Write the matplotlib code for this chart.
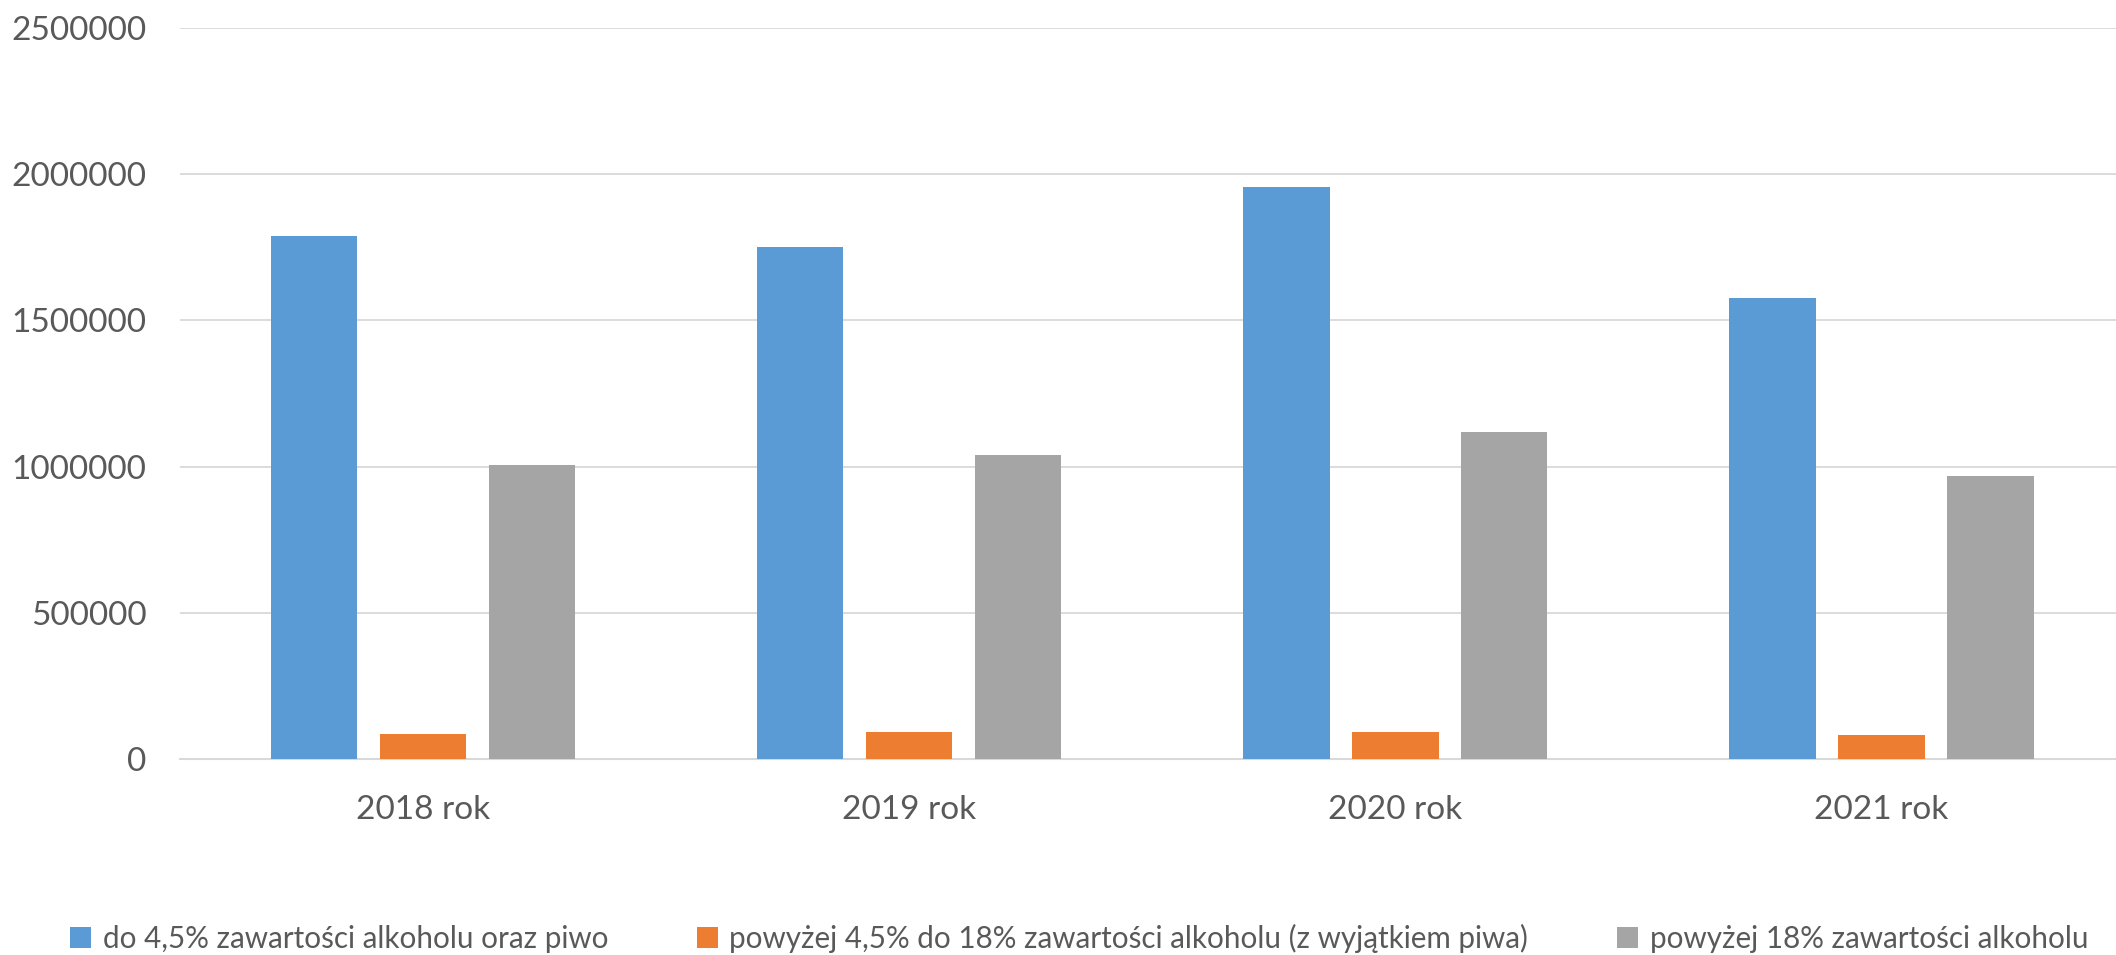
import numpy as np
import matplotlib.pyplot as plt

# Dane
lata = ['2018 rok', '2019 rok', '2020 rok', '2021 rok']
do_4_5 = [1790000, 1752000, 1956000, 1577000]
od_4_5_do_18 = [86500, 92000, 93700, 80700]
powyzej_18 = [1006000, 1041000, 1118000, 969000]
serie = ['do 4,5% zawartości alkoholu oraz piwo',
         'powyżej 4,5% do 18% zawartości alkoholu (z wyjątkiem piwa)',
         'powyżej 18% zawartości alkoholu']
kolory = ['#5B9BD5', '#ED7D31', '#A5A5A5']

plt.rcParams['font.family'] = ['Lato', 'DejaVu Sans']

fig = plt.figure(figsize=(21.16, 9.55), dpi=100)
ax = fig.add_axes([0.085, 0.2052, 0.919, 0.7654])

x = np.arange(len(lata))
szer = 0.178
krok = 0.224
for i, (wart, nazwa) in enumerate(zip([do_4_5, od_4_5_do_18, powyzej_18], serie)):
    ax.bar(x + (i - 1) * krok, wart, width=szer, color=kolory[i], label=nazwa, zorder=3)

ax.set_xlim(-0.5, len(lata) - 0.5)
ax.set_ylim(0, 2500000)
ax.set_yticks(np.arange(0, 2500001, 500000))
ax.set_yticklabels([str(v) for v in range(0, 2500001, 500000)])
ax.set_xticks(x)
ax.set_xticklabels(lata)

ax.grid(axis='y', color='#D9D9D9', linewidth=1.3, zorder=0)
for s in ['top', 'right', 'left']:
    ax.spines[s].set_visible(False)
ax.spines['bottom'].set_color('#D9D9D9')
ax.spines['bottom'].set_linewidth(1.5)
ax.tick_params(axis='both', length=0, labelsize=24, labelcolor='#595959')
ax.tick_params(axis='y', pad=24)
ax.tick_params(axis='x', pad=26)

fig.legend(loc='center', bbox_to_anchor=(0.51, 1 - 938 / 955), ncol=3, frameon=False,
           fontsize=21.3, labelcolor='#595959', handlelength=0.7, handleheight=0.7,
           handletextpad=0.4, columnspacing=3.0)

fig.savefig('out.png', dpi=100)
